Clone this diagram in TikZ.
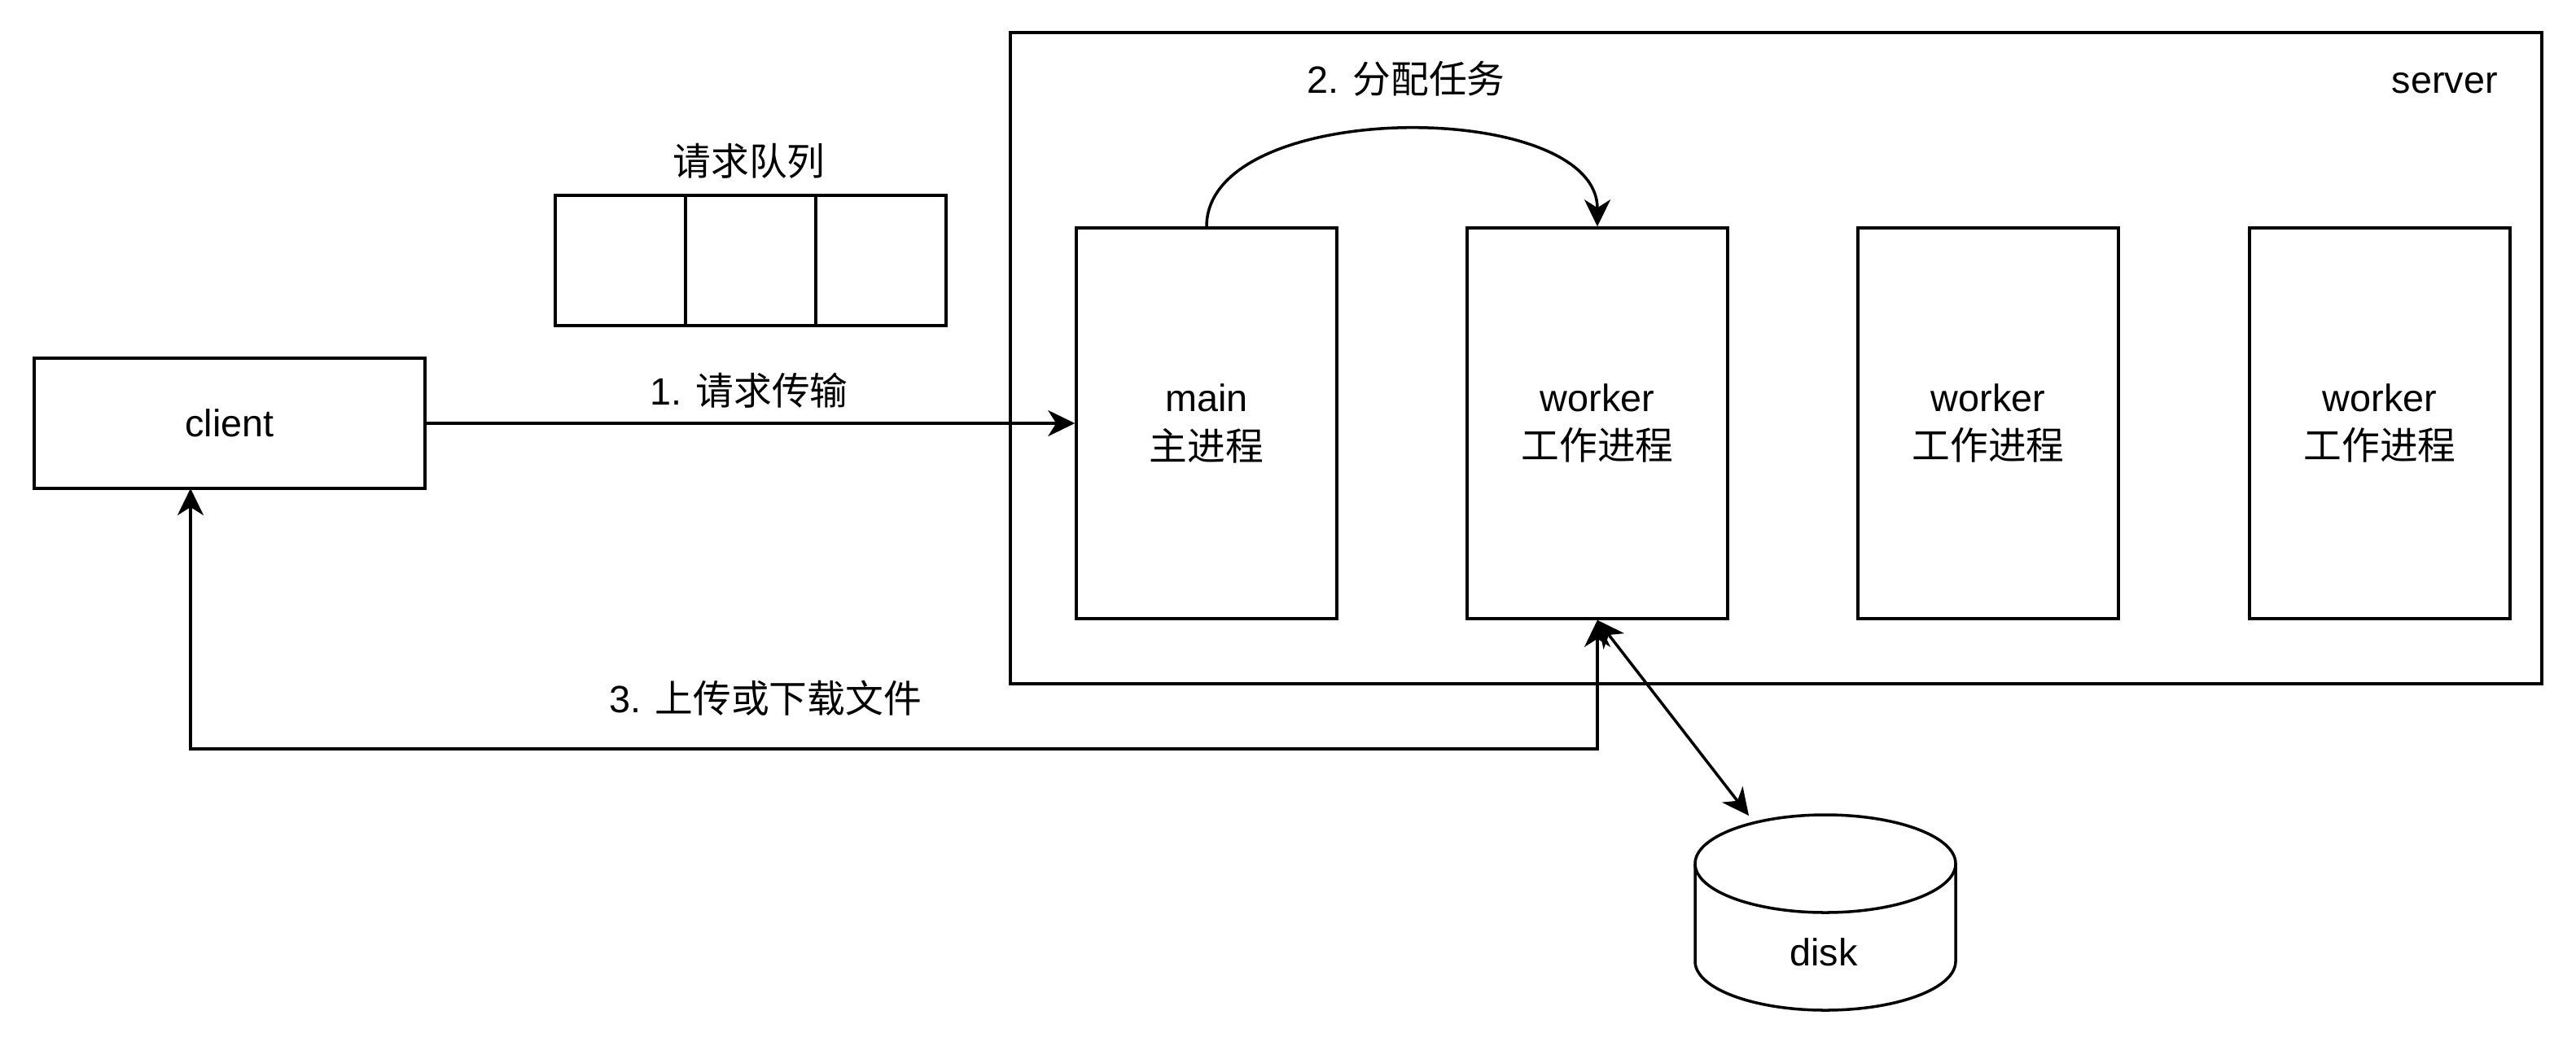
\documentclass[tikz,border=0pt]{standalone}
\usepackage{fontspec}
\setmainfont{Liberation Sans}
\newfontfamily\cjk{Noto Sans CJK SC}
\usetikzlibrary{arrows.meta}
\begin{document}
\begin{tikzpicture}[
  every node/.style={font=\fontsize{13.3pt}{17pt}\selectfont},
  ln/.style={line width=1pt},
  box/.style={draw, line width=1pt, minimum width=3.2cm, minimum height=4.8cm, align=center, inner sep=0pt},
  cell/.style={draw, line width=1pt, minimum width=1.6cm, minimum height=1.6cm, inner sep=0pt},
  arr/.style={line width=1pt, -{Stealth[length=0.33cm, width=0.32cm, inset=0.1cm]}},
  darr/.style={line width=1pt, {Stealth[length=0.33cm, width=0.32cm, inset=0.1cm]}-{Stealth[length=0.33cm, width=0.32cm, inset=0.1cm]}}
]
\useasboundingbox (0,0) rectangle (31.64,-12.84);
% server frame
\node[draw, line width=1pt, minimum width=18.81cm, minimum height=8.0cm, inner sep=0pt] (server) at (21.815,-4.40) {};
\node[anchor=east] (serverlbl) at (30.80,-1.02) {server};
% process boxes
\node[box] (main) at (14.82,-5.20) {main\\{\cjk 主进程}};
\node[box] (w1) at (19.62,-5.20) {worker\\{\cjk 工作进程}};
\node[box] (w2) at (24.42,-5.20) {worker\\{\cjk 工作进程}};
\node[box] (w3) at (29.23,-5.20) {worker\\{\cjk 工作进程}};
% queue
\node[cell] (q1) at (7.62,-3.20) {};
\node[cell] (q2) at (9.22,-3.20) {};
\node[cell] (q3) at (10.82,-3.20) {};
\node (qlbl) at (9.20,-1.98) {\cjk 请求队列};
% client
\node[draw, line width=1pt, minimum width=4.8cm, minimum height=1.6cm, inner sep=0pt] (client) at (2.82,-5.20) {client};
% disk
\draw[ln, fill=white] (20.82,-10.61) -- (20.82,-11.81) arc (180:360:1.6 and 0.6) -- (24.02,-10.61);
\draw[ln, fill=white] (22.42,-10.61) ellipse (1.6 and 0.6);
\node (disk) at (22.40,-11.70) {disk};
\coordinate (disktop) at (21.48,-10.02);
% connectors
\draw[arr] (client.east) -- (main.west);
\node (l1) at (9.20,-4.80) {1. {\cjk 请求传输}};
\draw[arr] (main.north) .. controls (14.82,-1.20) and (19.62,-1.20) .. (w1.north);
\node (l2) at (17.27,-0.97) {2. {\cjk 分配任务}};
\coordinate (c3) at (2.34,-6.00);
\coordinate (r3) at (19.62,-9.20);
\draw[darr] (w1.south) -- (r3) -| (c3);
\node (l3) at (9.40,-8.58) {3. {\cjk 上传或下载文件}};
\draw[darr] (w1.south) -- (disktop);
\end{tikzpicture}
\end{document}
